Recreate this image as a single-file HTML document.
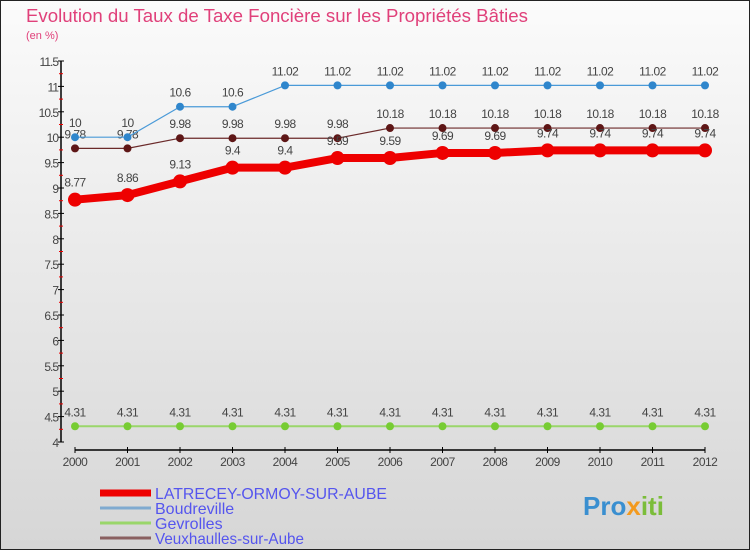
<!DOCTYPE html>
<html><head><meta charset="utf-8"><style>
body{margin:0;}
#c{position:relative;width:750px;height:550px;}
svg text{font-family:"Liberation Sans",sans-serif;}
</style></head><body>
<div id="c">
<svg id="s" width="750" height="550" xmlns="http://www.w3.org/2000/svg">
<defs><linearGradient id="bg" x1="0" y1="0" x2="0" y2="1"><stop offset="0" stop-color="#fbfbfb"/><stop offset="1" stop-color="#d6d6d6"/></linearGradient></defs>
<rect x="0.5" y="0.5" width="749" height="549" fill="url(#bg)" stroke="#222"/>
<text x="26" y="22" font-size="18.5" fill="#e0407a" textLength="502" lengthAdjust="spacingAndGlyphs">Evolution du Taux de Taxe Foncière sur les Propriétés Bâties</text>
<text x="26" y="39" font-size="11" fill="#e0407a">(en %)</text>
<g id="axes"></g><g id="series"></g><g id="legend"></g>
<text x="583" y="515" font-size="26" font-weight="bold" fill="#3a8fd0">Pro<tspan fill="#f39a1e">x</tspan><tspan fill="#7bbd3a">iti</tspan></text>
</svg></div>
<script>
const years=[2000,2001,2002,2003,2004,2005,2006,2007,2008,2009,2010,2011,2012];
const latrecey=[8.77,8.86,9.13,9.4,9.4,9.59,9.59,9.69,9.69,9.74,9.74,9.74,9.74];
const boudreville=[10,10,10.6,10.6,11.02,11.02,11.02,11.02,11.02,11.02,11.02,11.02,11.02];
const gevrolles=[4.31,4.31,4.31,4.31,4.31,4.31,4.31,4.31,4.31,4.31,4.31,4.31,4.31];
const veux=[9.78,9.78,9.98,9.98,9.98,9.98,10.18,10.18,10.18,10.18,10.18,10.18,10.18];
const yTicks=[4,4.5,5,5.5,6,6.5,7,7.5,8,8.5,9,9.5,10,10.5,11,11.5];
const NS="http://www.w3.org/2000/svg";
const X=i=>75+i*52.5;
const Y=v=>442-(v-4)*50.8;
function mk(t,a,p){const e=document.createElementNS(NS,t);for(const k in a)e.setAttribute(k,a[k]);p.appendChild(e);return e;}
const ax=document.getElementById('axes');
let e=mk('line',{x1:61,y1:Y(11.5),x2:61,y2:Y(4),stroke:'#000','stroke-width':1.5},ax);

e=mk('line',{x1:75,y1:450,x2:705,y2:450,stroke:'#000','stroke-width':1.5},ax);

yTicks.forEach((v,i)=>{
 mk('line',{x1:58,y1:Y(v),x2:64,y2:Y(v),stroke:'#000'},ax);
 if(i<yTicks.length-1)mk('line',{x1:59,y1:Y(v+0.25),x2:63,y2:Y(v+0.25),stroke:'#e00'},ax);
 const t=mk('text',{x:58,y:Y(v)+5,'font-size':12,fill:'#444','text-anchor':'end','letter-spacing':'-1'},ax);
 t.textContent=String(v);
 
});
years.forEach((y,i)=>{
 mk('line',{x1:X(i),y1:447,x2:X(i),y2:453,stroke:'#000'},ax);
 const t=mk('text',{x:X(i),y:466,'font-size':12,fill:'#444','text-anchor':'middle','letter-spacing':'-0.5'},ax);
 t.textContent=String(y);
 
});
const sg=document.getElementById('series');
function series(vals,color,lw,r,dot,name,lblOff){
 const g=mk('g',{},sg);
 
 const pl=mk('polyline',{points:vals.map((v,i)=>X(i)+','+Y(v)).join(' '),fill:'none',stroke:color,'stroke-width':lw,'stroke-linejoin':'round'},g);
 
 vals.forEach((v,i)=>{
  const c=mk('circle',{cx:X(i),cy:Y(v),r:r,fill:dot},g);
  
  const t=mk('text',{x:X(i),y:Y(v)+lblOff,'font-size':12,fill:'#444','text-anchor':'middle','letter-spacing':'-0.5'},g);
  t.textContent=String(v);
  
 });
}
series(gevrolles,'#9ad66a',2,4,'#77cc33','gevrolles',-10);
series(veux,'#6b2a2a',1.2,4,'#5e1616','veuxhaulles',-10);
series(boudreville,'#4a9ad8',1.2,4,'#2f86cc','boudreville',-10);
series(latrecey,'#ee0000',8,7,'#ee0000','latrecey',-13);
const lg=document.getElementById('legend');
[['LATRECEY-ORMOY-SUR-AUBE','#ee0000',7,232],['Boudreville','#7faad0',3,0],['Gevrolles','#9ad66a',3,0],['Veuxhaulles-sur-Aube','#8a6060',3,149]].forEach((d,i)=>{
 const y=493+i*15;
 const g=mk('g',{},lg);
 
 mk('line',{x1:100,y1:y,x2:151,y2:y,stroke:d[1],'stroke-width':d[2]},g);
 const a={x:155,y:y+6,'font-size':16,fill:'#5555ee'};
 if(d[3]){a.textLength=d[3];a.lengthAdjust='spacingAndGlyphs';}
 const t=mk('text',a,g);
 t.textContent=d[0];
});
</script>
</body></html>
